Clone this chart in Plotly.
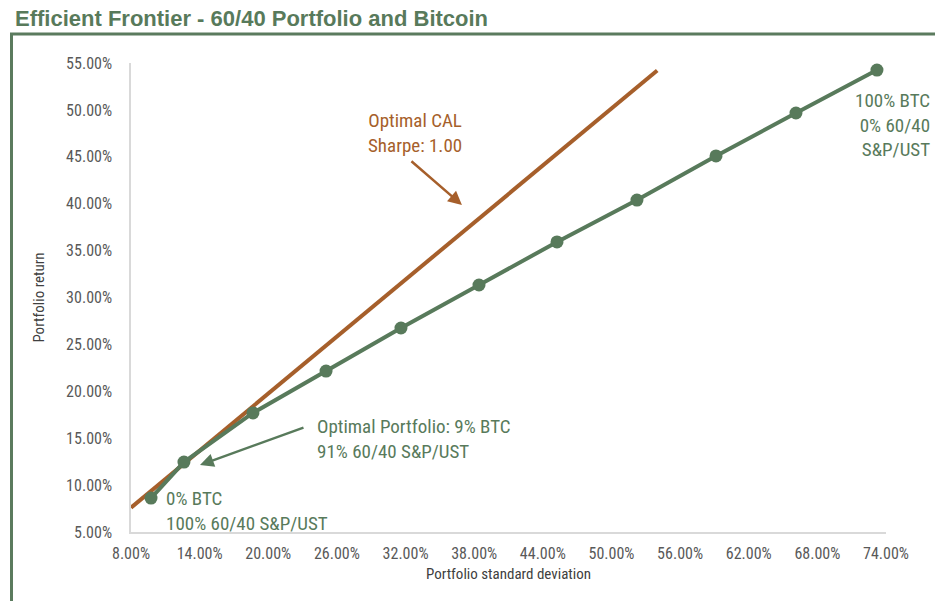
import plotly.graph_objects as go

# Efficient frontier (portfolio std dev %, portfolio return %)
frontier_sd = [9.75, 12.63, 18.66, 25.05, 31.60, 38.42, 45.24, 52.23, 59.14, 66.13, 73.21]
frontier_ret = [8.62, 12.46, 17.69, 22.16, 26.75, 31.33, 35.92, 40.39, 45.09, 49.67, 54.25]

# Optimal capital allocation line
cal_sd = [8.0, 54.0]
cal_ret = [7.6, 54.2]

x_ticks = [8, 14, 20, 26, 32, 38, 44, 50, 56, 62, 68, 74]
x_ticktext = ["8.00%", "14.00%", "20.00%", "26.00%", "32.00%", "38.00%", "44.00%",
              "50.00%", "56.00%", "62.00%", "68.00%", "74.00%"]
y_ticks = [5, 10, 15, 20, 25, 30, 35, 40, 45, 50, 55]
y_ticktext = ["5.00%", "10.00%", "15.00%", "20.00%", "25.00%", "30.00%", "35.00%",
              "40.00%", "45.00%", "50.00%", "55.00%"]

GREEN = "#587a5b"
ORANGE = "#a65f2b"
FONT = "Liberation Sans Narrow, Roboto Condensed, Arial Narrow, sans-serif"

# plot-area pixel geometry
L, R, T, B = 131, 886, 63, 532
PW, PH = R - L, B - T

def px(xp):
    return (xp - L) / PW

def py(yp):
    return (B - yp) / PH

fig = go.Figure()
fig.add_trace(go.Scatter(x=cal_sd, y=cal_ret, mode="lines",
                         line=dict(color=ORANGE, width=4), hoverinfo="skip",
                         showlegend=False, cliponaxis=False))
fig.add_trace(go.Scatter(x=frontier_sd, y=frontier_ret, mode="lines+markers",
                         line=dict(color=GREEN, width=4),
                         marker=dict(color=GREEN, size=13),
                         showlegend=False, cliponaxis=False))

fig.update_layout(
    width=935, height=601,
    margin=dict(l=L, r=935 - R, t=T, b=601 - B),
    paper_bgcolor="white", plot_bgcolor="white",
    title=dict(text="<b>Efficient Frontier - 60/40 Portfolio and Bitcoin</b>",
               xref="container", yref="container", x=15 / 935, xanchor="left",
               y=1 - 18 / 601, yanchor="middle",
               font=dict(family="Liberation Sans, Arial, sans-serif", size=22, color="#587a5b")),
    xaxis=dict(range=[8, 74], tickvals=x_ticks, ticktext=x_ticktext,
               showgrid=False, zeroline=False, showline=True, linecolor="#d9d9d9",
               linewidth=1.5, ticks="", ticklabelstandoff=6,
               tickfont=dict(family=FONT, size=16, color="#595959"),
               title=dict(text="Portfolio standard deviation", standoff=7,
                          font=dict(family=FONT, size=15, color="#404040"))),
    yaxis=dict(range=[5, 55], tickvals=y_ticks, ticktext=y_ticktext,
               showgrid=False, zeroline=False, showline=True, linecolor="#d9d9d9",
               linewidth=1.5, ticks="", ticklabelstandoff=14,
               tickfont=dict(family=FONT, size=16, color="#595959"),
               title=dict(text="Portfolio return", standoff=18,
                          font=dict(family=FONT, size=15, color="#404040"))),
)

ann_font_o = dict(family=FONT, size=19, color=ORANGE)
ann_font_g = dict(family=FONT, size=19, color=GREEN)

# arrows
fig.add_annotation(x=36.93, y=39.86, xref="x", yref="y",
                   ax=410 - 462, ay=160 - 205, axref="pixel", ayref="pixel",
                   text="", showarrow=True, arrowhead=2, arrowsize=1.1, arrowwidth=2.5,
                   arrowcolor=ORANGE, standoff=0)
fig.add_annotation(x=14.03, y=12.14, xref="x", yref="y",
                   ax=305 - 200, ay=427 - 465, axref="pixel", ayref="pixel",
                   text="", showarrow=True, arrowhead=2, arrowsize=1.1, arrowwidth=2.5,
                   arrowcolor=GREEN, standoff=0)

# labels
fig.add_annotation(xref="paper", yref="paper", x=px(415), y=py(133),
                   text="Optimal CAL<br>Sharpe: 1.00", showarrow=False, align="center",
                   xanchor="center", yanchor="middle", font=ann_font_o)
fig.add_annotation(xref="paper", yref="paper", x=px(315), y=py(439),
                   text="Optimal Portfolio: 9% BTC<br>91% 60/40 S&P/UST", showarrow=False,
                   align="left", xanchor="left", yanchor="middle", font=ann_font_g)
fig.add_annotation(xref="paper", yref="paper", x=px(164), y=py(511),
                   text="0% BTC<br>100% 60/40 S&P/UST", showarrow=False,
                   align="left", xanchor="left", yanchor="middle", font=ann_font_g)
fig.add_annotation(xref="paper", yref="paper", x=px(932), y=py(125),
                   text="100% BTC<br>0% 60/40<br>S&P/UST", showarrow=False,
                   align="right", xanchor="right", yanchor="middle", font=ann_font_g)

# outer green frame (partly cut off at right and bottom)
fig.add_shape(type="rect", xref="paper", yref="paper",
              x0=px(11.5), x1=px(960), y0=py(620), y1=py(34),
              line=dict(color="#5b7b5e", width=3), fillcolor="rgba(0,0,0,0)", layer="below")

fig.write_html("out.html", config={"displayModeBar": False},
               post_script="document.body.style.margin='0';document.body.style.overflow='hidden';")
